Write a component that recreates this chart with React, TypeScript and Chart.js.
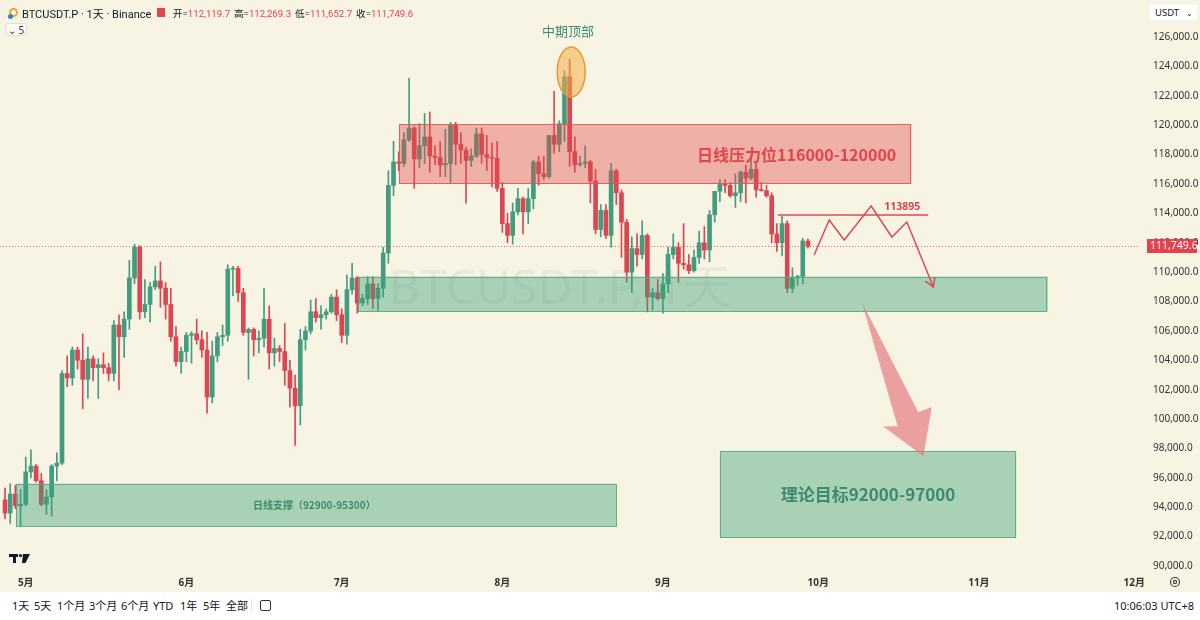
import React, { useEffect, useRef } from "react";
import { Chart, registerables } from "chart.js";

Chart.register(...registerables);

// ---------- DATA (daily candles, index 0 = 2025-04-27) ----------
const openPrices = [
  94500, 93600, 94900, 94100, 94200, 96400, 96800, 95800, 94200, 94700,
  96800, 97000, 103100, 102800, 104700, 104000, 102700, 104100, 103500, 103700,
  103500, 103100, 106400, 105600, 106800, 109600, 111700, 107300, 107800, 109000,
  109400, 108900, 107800, 105600, 103900, 104600, 105700, 105800, 105400, 104700,
  101500, 104300, 105600, 105700, 110200, 110250, 108600, 105900, 106100, 105400,
  105500, 106800, 104500, 104800, 104600, 103300, 102100, 100900, 105400, 106000,
  107300, 106900, 107100, 107300, 108300, 107100, 105700, 108800, 109600, 107900,
  108200, 109200, 108200, 108900, 111300, 115900, 117500, 117400, 119000, 119800,
  117700, 118600, 119200, 117900, 117800, 117300, 117400, 120000, 118700, 118300,
  117600, 117900, 119400, 118000, 117800, 117750, 115700, 113300, 112500, 114100,
  115000, 114100, 115000, 117500, 116700, 116500, 119300, 118700, 120100, 123300,
  118200, 117300, 117400, 117500, 116200, 112900, 114200, 112500, 116900, 115400,
  113400, 110000, 111600, 111200, 112500, 108300, 108600, 108200, 109200, 111200,
  111700, 110600, 110500, 110100, 111000, 112000, 111500, 113900, 115500, 116000,
  115900, 115200, 115400, 116800, 116400, 117000, 115600, 115550, 115200, 112600,
  112000, 113300, 108900, 109600, 109700, 112119.7,
];
const highPrices = [
  95300, 95600, 95500, 95200, 97400, 97900, 96900, 96300, 95200, 96900,
  97700, 103300, 104300, 104900, 104900, 105800, 104900, 104300, 104100, 104500,
  103800, 106700, 107100, 107300, 110800, 111900, 111800, 109500, 109300, 110400,
  110700, 109300, 108900, 106300, 104900, 105900, 105950, 106800, 106000, 105900,
  105300, 105900, 106400, 110500, 110400, 110400, 108900, 106200, 106200, 106000,
  108900, 107700, 105500, 105000, 106500, 104000, 103000, 106100, 106300, 108100,
  108200, 107700, 107500, 108500, 108800, 107500, 109800, 110600, 109700, 108500,
  109700, 109700, 109200, 111700, 116900, 118900, 118200, 119500, 123200, 119900,
  120100, 120800, 120900, 118600, 118900, 119700, 120200, 120200, 119500, 118500,
  118400, 119800, 119800, 119300, 118800, 118900, 116100, 114000, 114700, 115700,
  115100, 115700, 117600, 117900, 117900, 119300, 122300, 120300, 123700, 124500,
  119200, 117900, 118600, 117600, 117000, 114600, 114600, 117400, 117000, 115600,
  113600, 112400, 112600, 113500, 112600, 108900, 109500, 109900, 111700, 112600,
  112000, 113300, 111200, 111500, 112800, 113100, 114200, 115500, 116300, 116300,
  116100, 116700, 116900, 117300, 117900, 117500, 116100, 115900, 115400, 113300,
  113800, 113500, 110300, 109800, 112300, 112269.3,
];
const lowPrices = [
  93200, 92900, 93900, 92700, 94100, 96000, 95700, 94100, 93500, 93400,
  95800, 96900, 102200, 102300, 103400, 100700, 101400, 102600, 101400, 103100,
  102600, 102600, 102000, 104200, 106100, 109200, 106800, 106900, 106600, 108800,
  107600, 106800, 105300, 103600, 103100, 103900, 103800, 105100, 104200, 100400,
  101100, 103900, 105000, 105300, 108400, 108000, 105700, 102700, 104300, 104500,
  104900, 103400, 103600, 103900, 102300, 100800, 98200, 99600, 104700, 105800,
  106600, 106100, 106800, 107200, 106700, 105200, 105100, 108500, 107200, 107700,
  107800, 107500, 107400, 108300, 110600, 115200, 116900, 117200, 118900, 115700,
  117100, 117400, 116800, 117300, 116500, 116500, 116100, 117300, 117400, 114700,
  117200, 117800, 117400, 116900, 115800, 115500, 112700, 112000, 111900, 113900,
  112600, 113300, 114300, 115900, 116300, 116400, 118100, 118200, 118900, 117200,
  116800, 117200, 117100, 114700, 112600, 112400, 112300, 111700, 114600, 111000,
  109300, 108600, 110400, 110900, 107300, 107400, 108100, 107200, 108600, 110900,
  109300, 110200, 109900, 110000, 110600, 110900, 110700, 113400, 114800, 115400,
  115100, 114400, 114800, 114700, 116300, 115100, 115500, 115100, 112000, 111400,
  111100, 108600, 108600, 109100, 109200, 111652.7,
];
const closePrices = [
  93600, 94900, 94100, 94200, 96400, 96800, 95800, 94200, 94700, 96800,
  97000, 103100, 102800, 104700, 104000, 102700, 104100, 103500, 103700, 103500,
  103100, 106400, 105600, 106800, 109600, 111700, 107300, 107800, 109000, 109400,
  108900, 107800, 105600, 103900, 104600, 105700, 105800, 105400, 104700, 101500,
  104300, 105600, 105700, 110200, 110250, 108600, 105900, 106100, 105400, 105500,
  106800, 104500, 104800, 104600, 103300, 102100, 100900, 105400, 106000, 107300,
  106900, 107100, 107300, 108300, 107100, 105700, 108800, 109600, 107900, 108200,
  109200, 108200, 108900, 111300, 115900, 117500, 117400, 119000, 119800, 117700,
  118600, 119200, 117900, 117800, 117300, 117400, 120000, 118700, 118300, 117600,
  117900, 119400, 118000, 117800, 117750, 115700, 113300, 112500, 114100, 115000,
  114100, 115000, 117500, 116700, 116500, 119300, 118700, 120100, 123300, 118200,
  117300, 117400, 117500, 116200, 112900, 114200, 112500, 116900, 115400, 113400,
  110000, 111600, 111200, 112500, 108300, 108600, 108200, 109200, 111200, 111700,
  110600, 110500, 110100, 111000, 112000, 111500, 113900, 115500, 116000, 115900,
  115200, 115400, 116800, 116400, 117000, 115600, 115550, 115200, 112600, 112000,
  113300, 108900, 109600, 109700, 112120, 111749.6,
];

const monthTickIndex = [4, 35, 65, 96, 127, 157, 188, 218];
const monthTickLabels = ["5月", "6月", "7月", "8月", "9月", "10月", "11月", "12月"];
const priceTicks = [
  90000, 92000, 94000, 96000, 98000, 100000, 102000, 104000, 106000, 108000,
  110000, 112000, 114000, 116000, 118000, 120000, 122000, 124000, 126000,
];
const lastPrice = 111749.6;

// annotation anchors (date index, price)
const resistanceZone = { from: 76.1, to: 175.0, high: 120050, low: 116000 };
const supportZone = { from: 68.2, to: 201.3, high: 109700, low: 107300 };
const dailySupportZone = { from: 2.1, to: 118.1, high: 95600, low: 92700 };
const targetZone = { from: 138.0, to: 195.2, high: 97830, low: 91900 };
const topEllipse = { from: 106.6, to: 112.0, high: 125320, low: 121920 };
const level113895 = { from: 149.2, to: 178.2, price: 113895 };
const zigzagIdx = [156.2, 159.1, 162.0, 167.2, 171.2, 174.1, 179.2];
const zigzagPrice = [111160, 113550, 112190, 114500, 112390, 113410, 108990];
const bigArrowIdx = [165.4, 172.3, 169.5, 177.3, 178.9, 176.3];
const bigArrowPrice = [107960, 99510, 99510, 97460, 100820, 100460];

const GREEN = "#439C7F";
const RED = "#DD4651";
const BG = "#F8F4E4";
const FONT = '"Noto Sans", "Noto Sans CJK SC", sans-serif';
const HFONT = 'Roboto, "Noto Sans CJK SC", sans-serif';

function P(chart: any, i: number, p: number): [number, number] {
  return [chart.scales.x.getPixelForValue(i), chart.scales.y.getPixelForValue(p)];
}

function drawZone(ctx: CanvasRenderingContext2D, chart: any, z: any, fill: string, stroke: string) {
  const [x1, y1] = P(chart, z.from, z.high);
  const [x2, y2] = P(chart, z.to, z.low);
  ctx.fillStyle = fill;
  ctx.fillRect(x1, y1, x2 - x1, y2 - y1);
  ctx.strokeStyle = stroke;
  ctx.lineWidth = 1;
  ctx.strokeRect(Math.round(x1) + 0.5, Math.round(y1) + 0.5, Math.round(x2 - x1) - 1, Math.round(y2 - y1) - 1);
}

const annotations = {
  id: "annotations",
  beforeDraw(chart: any) {
    const ctx = chart.ctx;
    ctx.save();
    ctx.fillStyle = BG;
    ctx.fillRect(0, 0, chart.width, chart.height);
    ctx.restore();
  },
  beforeDatasetsDraw(chart: any) {
    const ctx = chart.ctx;
    const a = chart.chartArea;
    ctx.save();
    ctx.font = `48px ${FONT}`;
    ctx.fillStyle = "rgba(90,90,90,0.07)";
    ctx.textAlign = "center";
    ctx.textBaseline = "middle";
    ctx.fillText("BTCUSDT.P, 1天", (a.left + a.right) / 2 - 10, (a.top + a.bottom) / 2 + 4);
    ctx.restore();
  },
  afterDatasetsDraw(chart: any) {
    const ctx: CanvasRenderingContext2D = chart.ctx;
    ctx.save();
    // zones
    drawZone(ctx, chart, resistanceZone, "rgba(222,75,75,0.40)", "rgba(214,90,95,0.9)");
    drawZone(ctx, chart, supportZone, "rgba(60,160,120,0.42)", "rgba(90,168,135,0.9)");
    drawZone(ctx, chart, dailySupportZone, "rgba(60,160,120,0.42)", "rgba(90,168,135,0.9)");
    drawZone(ctx, chart, targetZone, "rgba(60,160,120,0.42)", "rgba(90,168,135,0.9)");

    // zone texts
    ctx.textBaseline = "middle";
    ctx.textAlign = "left";
    ctx.fillStyle = "#E0444F";
    ctx.font = `bold 16px "Noto Sans CJK SC", ${FONT}`;
    let [tx, ty] = P(chart, 133.6, 117950);
    ctx.fillText("日线压力位116000-120000", tx, ty);

    ctx.textAlign = "center";
    ctx.fillStyle = "#3E8A6C";
    ctx.font = `bold 17px "Noto Sans CJK SC", ${FONT}`;
    [tx, ty] = P(chart, 166.6, 94830);
    ctx.fillText("理论目标92000-97000", tx, ty);

    ctx.font = `bold 10px "Noto Sans CJK SC", ${FONT}`;
    [tx, ty] = P(chart, 59.7, 94150);
    ctx.fillText("日线支撑（92900-95300）", tx, ty);

    ctx.font = `13px "Noto Sans CJK SC", ${FONT}`;
    ctx.fillStyle = "#3E8D72";
    [tx, ty] = P(chart, 108.7, 126420);
    ctx.fillText("中期顶部", tx, ty);

    // ellipse at the top
    const [ex1, ey1] = P(chart, topEllipse.from, topEllipse.high);
    const [ex2, ey2] = P(chart, topEllipse.to, topEllipse.low);
    ctx.beginPath();
    ctx.ellipse((ex1 + ex2) / 2, (ey1 + ey2) / 2, (ex2 - ex1) / 2, (ey2 - ey1) / 2, 0, 0, Math.PI * 2);
    ctx.fillStyle = "rgba(244,175,70,0.55)";
    ctx.fill();
    ctx.strokeStyle = "#E39B35";
    ctx.lineWidth = 1.5;
    ctx.stroke();

    // 113895 level
    const [lx1, ly] = P(chart, level113895.from, level113895.price);
    const [lx2] = P(chart, level113895.to, level113895.price);
    ctx.beginPath();
    ctx.moveTo(lx1, ly);
    ctx.lineTo(lx2, ly);
    ctx.strokeStyle = "#DC4A55";
    ctx.lineWidth = 1.5;
    ctx.stroke();
    ctx.font = `bold 10.5px ${FONT}`;
    ctx.fillStyle = "#D9464E";
    ctx.textAlign = "center";
    ctx.textBaseline = "alphabetic";
    [tx, ty] = P(chart, 173.2, 114000);
    ctx.fillText("113895", tx, ty - 3);

    // zigzag path with arrow head
    ctx.beginPath();
    zigzagIdx.forEach((ix, k) => {
      const [x, y] = P(chart, ix, zigzagPrice[k]);
      if (k === 0) ctx.moveTo(x, y);
      else ctx.lineTo(x, y);
    });
    ctx.strokeStyle = "#DC4A55";
    ctx.lineWidth = 1.5;
    ctx.stroke();
    const n = zigzagIdx.length;
    const [ax, ay] = P(chart, zigzagIdx[n - 1], zigzagPrice[n - 1]);
    const [bx, by] = P(chart, zigzagIdx[n - 2], zigzagPrice[n - 2]);
    const ang = Math.atan2(ay - by, ax - bx);
    ctx.beginPath();
    ctx.moveTo(ax + Math.cos(ang + Math.PI - 0.55) * 10, ay + Math.sin(ang + Math.PI - 0.55) * 10);
    ctx.lineTo(ax, ay);
    ctx.lineTo(ax + Math.cos(ang + Math.PI + 0.55) * 10, ay + Math.sin(ang + Math.PI + 0.55) * 10);
    ctx.stroke();

    // big pink arrow
    ctx.beginPath();
    bigArrowIdx.forEach((ix, k) => {
      const [x, y] = P(chart, ix, bigArrowPrice[k]);
      if (k === 0) ctx.moveTo(x, y);
      else ctx.lineTo(x, y);
    });
    ctx.closePath();
    ctx.fillStyle = "rgba(230,118,128,0.68)";
    ctx.fill();

    // last price dotted line
    const yl = chart.scales.y.getPixelForValue(lastPrice);
    ctx.beginPath();
    ctx.setLineDash([1, 2]);
    ctx.moveTo(chart.chartArea.left, Math.round(yl) + 0.5);
    ctx.lineTo(chart.chartArea.right, Math.round(yl) + 0.5);
    ctx.strokeStyle = "rgba(220,70,80,0.85)";
    ctx.lineWidth = 1;
    ctx.stroke();
    ctx.setLineDash([]);
    ctx.restore();
  },
  afterDraw(chart: any) {
    const ctx: CanvasRenderingContext2D = chart.ctx;
    ctx.save();
    const yl = chart.scales.y.getPixelForValue(lastPrice);
    ctx.fillStyle = "#E0444F";
    ctx.fillRect(1147, Math.round(yl) - 7, 50, 14);
    ctx.fillStyle = "#FFFFFF";
    ctx.font = `10.5px ${FONT}`;
    ctx.textAlign = "left";
    ctx.textBaseline = "middle";
    ctx.fillText(lastPrice.toLocaleString("en-US", { minimumFractionDigits: 1 }), 1150, Math.round(yl) + 0.5);

    // gear icon
    ctx.beginPath();
    ctx.arc(1175, 582, 4.5, 0, Math.PI * 2);
    ctx.strokeStyle = "#444";
    ctx.lineWidth = 1.2;
    ctx.stroke();
    ctx.beginPath();
    ctx.arc(1175, 582, 1.6, 0, Math.PI * 2);
    ctx.stroke();

    // TradingView-like logo
    ctx.fillStyle = "#131722";
    ctx.fillRect(9, 554, 9, 3);
    ctx.fillRect(13, 554, 3, 9);
    ctx.beginPath();
    ctx.arc(20.5, 555.5, 1.6, 0, Math.PI * 2);
    ctx.fill();
    ctx.beginPath();
    ctx.moveTo(23, 554);
    ctx.lineTo(30, 554);
    ctx.lineTo(25.5, 563);
    ctx.lineTo(22, 563);
    ctx.closePath();
    ctx.fill();
    ctx.restore();
  },
};

function zeroPad(s: any) {
  s.paddingTop = 0;
  s.paddingBottom = 0;
  s.paddingLeft = 0;
  s.paddingRight = 0;
}

export default function App() {
  const ref = useRef<HTMLCanvasElement>(null);
  useEffect(() => {
    if (!ref.current) return;
    Chart.defaults.font.family = FONT;
    const colors = closePrices.map((c, i) => (c >= openPrices[i] ? GREEN : RED));
    const chart = new Chart(ref.current, {
      type: "bar",
      data: {
        datasets: [
          {
            label: "body",
            data: openPrices.map((o, i) => ({ x: i, y: [o, closePrices[i]] })) as any,
            backgroundColor: colors,
            barThickness: 4,
            minBarLength: 1,
            grouped: false,
            borderWidth: 0,
          } as any,
          {
            label: "wick",
            data: lowPrices.map((l, i) => ({ x: i, y: [l, highPrices[i]] })) as any,
            backgroundColor: colors,
            barThickness: 1,
            grouped: false,
            borderWidth: 0,
          } as any,
        ],
      },
      options: {
        animation: false,
        responsive: false,
        devicePixelRatio: 1,
        events: [],
        layout: { padding: 0, autoPadding: false },
        plugins: { legend: { display: false }, tooltip: { enabled: false }, title: { display: false } },
        scales: {
          x: {
            type: "linear",
            min: -0.97,
            max: 219.1,
            offset: false,
            bounds: "data",
            grid: { display: false, drawTicks: false },
            border: { display: false },
            afterBuildTicks: (s: any) => {
              s.ticks = monthTickIndex.map((v) => ({ value: v }));
            },
            afterFit: (s: any) => {
              s.height = 20;
              zeroPad(s);
            },
            ticks: {
              autoSkip: false,
              maxRotation: 0,
              padding: 5,
              color: "#333",
              font: { size: 10, weight: "bold" },
              callback: (v: any) => {
                const k = monthTickIndex.indexOf(Number(v));
                return k >= 0 ? monthTickLabels[k] : "";
              },
            },
          },
          y: {
            type: "linear",
            position: "right",
            min: 89590,
            max: 128520,
            bounds: "data",
            grid: { display: false, drawTicks: false },
            border: { display: false },
            afterBuildTicks: (s: any) => {
              s.ticks = priceTicks.map((v) => ({ value: v }));
            },
            afterFit: (s: any) => {
              s.width = 60;
              zeroPad(s);
            },
            ticks: {
              padding: 13,
              color: "#333",
              font: { size: 10 },
              callback: (v: any) =>
                Number(v).toLocaleString("en-US", { minimumFractionDigits: 1, maximumFractionDigits: 1 }),
            },
          },
        },
      } as any,
      plugins: [annotations],
    });
    return () => chart.destroy();
  }, []);

  const hdr: React.CSSProperties = { position: "absolute", whiteSpace: "nowrap" };
  const val: React.CSSProperties = { color: "#E0444F", marginRight: 4 };
  const tb = (left: number, text: string) => (
    <span key={text} style={{ ...hdr, left, top: 0, lineHeight: "28px", fontSize: 11, color: "#131722" }}>
      {text}
    </span>
  );

  return (
    <div
      style={{
        position: "fixed",
        left: 0,
        top: 0,
        width: 1200,
        height: 620,
        background: "#fff",
        overflow: "hidden",
        fontFamily: FONT,
      }}
    >
      <canvas ref={ref} width={1200} height={592} style={{ position: "absolute", left: 0, top: 0, width: 1200, height: 592 }} />
      {/* header */}
      <div style={{ ...hdr, left: 9, top: 8, width: 9, height: 9, borderRadius: 6, border: "2px solid #F0A23A", boxSizing: "border-box" }} />
      <div style={{ ...hdr, left: 8, top: 14, width: 5, height: 5, borderRadius: 3, background: "#3A7FC1" }} />
      <span style={{ ...hdr, left: 22, top: 5, fontSize: 11, color: "#131722", fontFamily: HFONT }}>BTCUSDT.P · 1天 · Binance</span>
      <div style={{ ...hdr, left: 157, top: 8, width: 8, height: 9, background: "#E0444F" }} />
      <span style={{ ...hdr, left: 173, top: 6, fontSize: 9.6, color: "#131722", fontFamily: HFONT }}>
        开=<span style={val}>112,119.7</span>高=<span style={val}>112,269.3</span>低=<span style={val}>111,652.7</span>收=<span style={{ color: "#E0444F" }}>111,749.6</span>
      </span>
      <div
        style={{
          ...hdr,
          left: 5,
          top: 23,
          width: 22,
          height: 13,
          borderRadius: 3,
          border: "1px solid #E2DDCB",
          background: "rgba(255,255,255,0.55)",
          fontSize: 10,
          lineHeight: "13px",
          color: "#333",
          textAlign: "center",
          boxSizing: "border-box",
        }}
      >
        ⌄ 5
      </div>
      {/* currency box */}
      <div
        style={{
          ...hdr,
          left: 1150,
          top: 5,
          width: 47,
          height: 15,
          background: "#fff",
          borderRadius: 2,
          fontSize: 9.5,
          lineHeight: "15px",
          color: "#131722",
          paddingLeft: 5,
          boxSizing: "border-box",
        }}
      >
        USDT<span style={{ position: "absolute", right: 4, fontSize: 8 }}>⌄</span>
      </div>
      {/* bottom toolbar */}
      <div style={{ position: "absolute", left: 0, top: 592, width: 1200, height: 28, background: "#fff" }}>
        {tb(12, "1天")}
        {tb(34, "5天")}
        {tb(57, "1个月")}
        {tb(89, "3个月")}
        {tb(121, "6个月")}
        {tb(153, "YTD")}
        {tb(180, "1年")}
        {tb(203, "5年")}
        {tb(226, "全部")}
        <div style={{ position: "absolute", left: 251, top: 7, width: 1, height: 14, background: "#E0E3EB" }} />
        <div style={{ position: "absolute", left: 260, top: 8, width: 11, height: 11, border: "1.5px solid #333", borderRadius: 2, boxSizing: "border-box" }} />
        <span style={{ ...hdr, right: 6, top: 0, lineHeight: "28px", fontSize: 11, color: "#131722" }}>10:06:03 UTC+8</span>
      </div>
    </div>
  );
}
